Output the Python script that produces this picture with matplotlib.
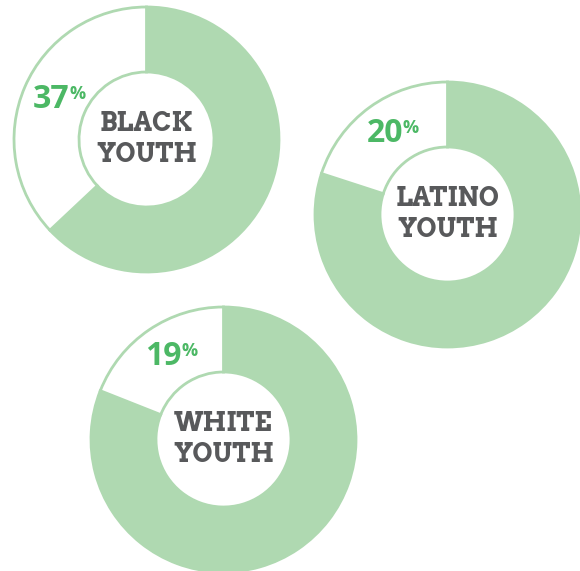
import matplotlib
matplotlib.use("Agg")
import matplotlib.pyplot as plt
import numpy as np

categories = ["BLACK\nYOUTH", "LATINO\nYOUTH", "WHITE\nYOUTH"]
percent_values = [37, 20, 19]

# layout (pixel-like coordinates, y measured from top)
centers = [(146.5, 139.5), (447.5, 214.5), (223.5, 439.5)]
outer_r = 132.5
ring_w = 65

green = "#afd9b1"
pct_color = "#4cb865"
label_color = "#58595b"

fig = plt.figure(figsize=(5.8, 5.71), dpi=100)
ax = fig.add_axes([0, 0, 1, 1])
H = 571

for cat, pct, (cx, cy) in zip(categories, percent_values, centers):
    c = (cx, H - cy)
    ax.pie([100 - pct, pct], center=c, radius=outer_r,
           startangle=90, counterclock=False,
           colors=[green, "white"],
           wedgeprops=dict(width=ring_w, edgecolor=green, linewidth=2))
    ax.text(c[0], c[1], cat, ha="center", va="center", color=label_color,
            fontsize=18.5, fontweight="bold", family="Arvo", linespacing=1.22)
    ang = np.deg2rad(90 + 360 * pct / 100 / 2)
    rm = outer_r - ring_w / 2
    px = c[0] + rm * np.cos(ang)
    py = c[1] + rm * np.sin(ang)
    t = ax.text(px - 4, py, str(pct), ha="center", va="center", color=pct_color,
                fontsize=23, fontweight="bold", family="Open Sans",
                fontstretch="condensed")
    ax.annotate("%", xy=(1, 1), xycoords=t, ha="left", va="top",
                xytext=(0, -1.5), textcoords="offset points",
                color=pct_color, fontsize=13, fontweight="bold",
                family="Open Sans", fontstretch="condensed")

ax.set_xlim(0, 580)
ax.set_ylim(0, 571)
ax.set_aspect("equal")
ax.axis("off")
fig.savefig("out.png", dpi=100)
